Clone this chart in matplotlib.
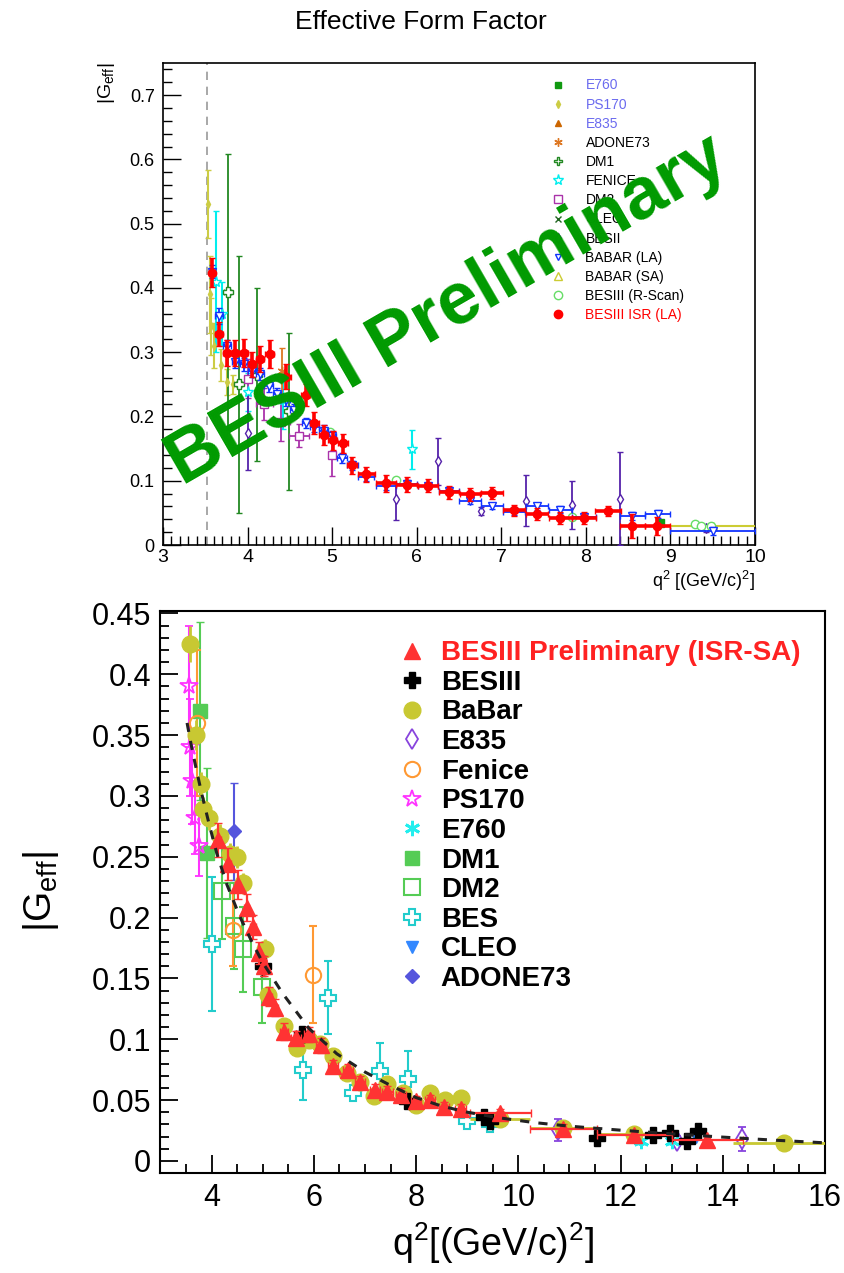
import matplotlib.pyplot as plt
from matplotlib.lines import Line2D
from matplotlib.ticker import MultipleLocator, FuncFormatter

plt.rcParams['font.family'] = ['Liberation Sans', 'DejaVu Sans']
plt.rcParams['mathtext.fontset'] = 'custom'
plt.rcParams['mathtext.rm'] = 'Liberation Sans'
plt.rcParams['mathtext.it'] = 'Liberation Sans:italic'
plt.rcParams['mathtext.bf'] = 'Liberation Sans:bold'

ASTER = (6, 2, 0)

# ---------------- top panel data (q2 in (GeV/c)^2, |Geff|) ----------------
isr_q2 = [3.58, 3.66, 3.755, 3.855, 3.955, 4.05, 4.15, 4.26, 4.46, 4.685, 4.79, 4.90, 5.005, 5.125, 5.235,
          5.405, 5.64, 5.88, 6.13, 6.38, 6.63, 6.89, 7.155, 7.42, 7.70, 7.975, 8.26, 8.55, 8.845]
isr_g = [0.424, 0.328, 0.299, 0.299, 0.299, 0.281, 0.289, 0.297, 0.262, 0.234, 0.190, 0.171, 0.163, 0.158, 0.124,
         0.110, 0.096, 0.094, 0.092, 0.082, 0.079, 0.081, 0.054, 0.048, 0.042, 0.042, 0.053, 0.030, 0.030]
isr_dq = [0.04, 0.045, 0.045, 0.045, 0.045, 0.045, 0.045, 0.05, 0.05, 0.05, 0.05, 0.05, 0.05, 0.06, 0.06,
          0.10, 0.12, 0.12, 0.12, 0.12, 0.12, 0.13, 0.13, 0.13, 0.14, 0.14, 0.15, 0.15, 0.15]
isr_dg = [0.022, 0.019, 0.02, 0.02, 0.022, 0.02, 0.02, 0.022, 0.02, 0.017, 0.017, 0.015, 0.015, 0.015, 0.013,
          0.012, 0.013, 0.012, 0.01, 0.01, 0.01, 0.01, 0.009, 0.009, 0.01, 0.009, 0.008, 0.019, 0.014]

babar_la_q2 = [3.58, 3.665, 3.755, 3.855, 3.955, 4.05, 4.15, 4.25, 4.35, 4.45, 4.55, 4.69, 4.79, 4.90, 5.0,
               5.12, 5.24, 5.40, 5.64, 5.88, 6.13, 6.38, 6.63, 6.89, 7.155, 7.42, 7.70, 7.975, 8.55, 8.85, 9.5]
babar_la_g = [0.425, 0.356, 0.309, 0.285, 0.281, 0.271, 0.266, 0.247, 0.235, 0.225, 0.21, 0.19, 0.184, 0.178, 0.169,
              0.135, 0.124, 0.106, 0.092, 0.095, 0.092, 0.084, 0.069, 0.061, 0.052, 0.060, 0.055, 0.044, 0.045, 0.048, 0.022]
babar_la_dq = [0.04, 0.045, 0.045, 0.045, 0.045, 0.045, 0.045, 0.05, 0.05, 0.05, 0.05, 0.05, 0.05, 0.05, 0.05,
               0.06, 0.06, 0.10, 0.12, 0.12, 0.12, 0.12, 0.13, 0.13, 0.13, 0.13, 0.14, 0.14, 0.15, 0.15, 0.5]
babar_la_dg = [0.01, 0.012, 0.01, 0.01, 0.01, 0.01, 0.009, 0.009, 0.009, 0.009, 0.009, 0.008, 0.008, 0.008, 0.008,
               0.008, 0.007, 0.006, 0.006, 0.006, 0.005, 0.005, 0.005, 0.005, 0.005, 0.005, 0.005, 0.005, 0.006, 0.006, 0.006]

babar_sa_q2 = [9.5]
babar_sa_g = [0.030]
babar_sa_dq = [0.5]

ps170_top_q2 = [3.53, 3.557, 3.562, 3.605, 3.69, 3.76, 3.83]
ps170_top_g = [0.53, 0.39, 0.34, 0.31, 0.28, 0.254, 0.25]
ps170_top_dg = [0.053, 0.06, 0.045, 0.035, 0.025, 0.02, 0.015]

fenice_top_q2 = [3.625, 3.70, 4.0, 4.42, 5.95]
fenice_top_g = [0.41, 0.36, 0.238, 0.225, 0.149]
fenice_top_dg = [0.11, 0.05, 0.03, 0.045, 0.03]

dm1_top_q2 = [3.763, 3.90, 4.11, 4.49]
dm1_top_g = [0.394, 0.25, 0.265, 0.208]
dm1_top_dg = [0.215, 0.2, 0.135, 0.122]

dm2_top_q2 = [4.0, 4.2, 4.4, 4.605, 5.0]
dm2_top_g = [0.259, 0.22, 0.192, 0.17, 0.14]
dm2_top_dq = [0.0, 0.1, 0.1, 0.12, 0.0]
dm2_top_dg = [0.03, 0.025, 0.03, 0.018, 0.033]

adone_top_q2 = [4.41]
adone_top_g = [0.27]
adone_top_dg = [0.036]

bes2_top_q2 = [4.0, 5.76, 6.25, 6.76, 7.29, 7.84, 8.40, 9.42]
bes2_top_g = [0.175, 0.071, 0.13, 0.053, 0.069, 0.062, 0.072, 0.026]
bes2_top_dg = [0.058, 0.032, 0.037, 0.006, 0.04, 0.037, 0.072, 0.005]

rscan_q2 = [4.98, 5.76, 7.84, 9.29, 9.36, 9.48]
rscan_g = [0.176, 0.101, 0.043, 0.032, 0.030, 0.030]

e760_top_q2 = [8.88]
e760_top_g = [0.035]

top_labels = ['E760', 'PS170', 'E835', 'ADONE73', 'DM1', 'FENICE', 'DM2', 'CLEO', 'BESII',
              'BABAR (LA)', 'BABAR (SA)', 'BESIII (R-Scan)', 'BESIII ISR (LA)']

# ---------------- bottom panel data ----------------
isr_sa_q2 = [4.13, 4.33, 4.51, 4.69, 4.81, 4.92, 5.03, 5.13, 5.24, 5.41, 5.65, 5.90, 6.14, 6.37, 6.67,
             6.91, 7.19, 7.44, 7.71, 8.00, 8.27, 8.55, 8.87, 9.65, 10.88, 12.27, 13.7]
isr_sa_g = [0.264, 0.244, 0.227, 0.208, 0.192, 0.171, 0.160, 0.135, 0.126, 0.106, 0.101, 0.104, 0.095, 0.078, 0.075,
            0.065, 0.058, 0.0565, 0.0545, 0.049, 0.050, 0.044, 0.043, 0.039, 0.026, 0.0216, 0.0175]
isr_sa_dq = [0.05, 0.05, 0.05, 0.05, 0.05, 0.05, 0.05, 0.05, 0.05, 0.08, 0.1, 0.1, 0.1, 0.1, 0.1,
             0.1, 0.1, 0.1, 0.1, 0.1, 0.1, 0.1, 0.1, 0.59, 0.65, 0.73, 0.7]
isr_sa_dg = [0.014, 0.013, 0.012, 0.011, 0.01, 0.009, 0.008, 0.008, 0.007, 0.007, 0.006, 0.006, 0.006, 0.005, 0.005,
             0.005, 0.005, 0.005, 0.005, 0.004, 0.004, 0.004, 0.004, 0.004, 0.004, 0.003, 0.003]

bes3_q2 = [5.0, 5.77, 7.83, 9.33, 9.45, 11.53, 12.64, 12.97, 13.3, 13.52]
bes3_g = [0.16, 0.104, 0.049, 0.036, 0.033, 0.019, 0.0216, 0.023, 0.0162, 0.0244]
bes3_dg = [0.008, 0.006, 0.004, 0.003, 0.003, 0.004, 0.003, 0.004, 0.004, 0.004]

babar_q2 = [3.58, 3.70, 3.79, 3.84, 3.94, 4.17, 4.36, 4.50, 4.62, 5.05, 5.11, 5.41, 5.67, 5.90, 6.12,
            6.37, 6.65, 6.91, 7.17, 7.43, 7.75, 8.00, 8.27, 8.57, 8.87, 9.64, 10.88, 12.27, 15.2]
babar_g = [0.425, 0.35, 0.31, 0.289, 0.282, 0.267, 0.252, 0.25, 0.228, 0.174, 0.136, 0.111, 0.093, 0.099, 0.096,
           0.086, 0.072, 0.065, 0.053, 0.063, 0.056, 0.046, 0.056, 0.050, 0.052, 0.034, 0.027, 0.022, 0.0148]
babar_dq = [0, 0, 0, 0, 0, 0, 0, 0, 0, 0, 0, 0, 0, 0, 0,
            0, 0, 0, 0, 0, 0, 0, 0, 0, 0, 0.59, 0.65, 0.73, 1.0]
babar_dg = [0.015, 0.012, 0.01, 0.01, 0.01, 0.01, 0.009, 0.009, 0.009, 0.008, 0.007, 0.006, 0.006, 0.006, 0.005,
            0.005, 0.005, 0.005, 0.005, 0.005, 0.004, 0.004, 0.004, 0.004, 0.004, 0.003, 0.003, 0.003, 0.003]

e835_q2 = [10.78, 13.1, 14.37]
e835_g = [0.025, 0.0162, 0.018]
e835_dg = [0.009, 0.004, 0.0096]

fenice_q2 = [3.71, 4.42, 5.99]
fenice_g = [0.36, 0.19, 0.153]
fenice_dg = [0.06, 0.03, 0.04]

ps170_q2 = [3.55, 3.58, 3.615, 3.68, 3.76]
ps170_g = [0.39, 0.34, 0.312, 0.282, 0.259]
ps170_dg = [0.05, 0.04, 0.035, 0.03, 0.025]

e760_q2 = [12.4, 13.0]
e760_g = [0.0162, 0.0162]
e760_dg = [0.002, 0.002]

dm1_q2 = [3.78, 3.91]
dm1_g = [0.37, 0.253]
dm1_dg = [0.073, 0.07]

dm2_q2 = [4.2, 4.43, 4.62, 4.98]
dm2_g = [0.222, 0.193, 0.174, 0.143]
dm2_dg = [0.04, 0.035, 0.035, 0.03]

bes_q2 = [4.0, 5.78, 6.27, 6.77, 7.30, 7.85, 8.99, 9.45]
bes_g = [0.178, 0.075, 0.134, 0.056, 0.074, 0.0675, 0.0327, 0.030]
bes_dg = [0.055, 0.025, 0.03, 0.004, 0.023, 0.023, 0.004, 0.004]

cleo_q2 = [13.48]
cleo_g = [0.02]
cleo_dg = [0.002]

adone_q2 = [4.43]
adone_g = [0.271]
adone_dg = [0.04]

# dashed fit curve
fit_q2 = [3.52, 3.6, 3.7, 3.8, 3.95, 4.1, 4.3, 4.55, 4.8, 5.0, 5.4, 5.9, 6.45, 7.0, 7.5,
          8.0, 8.5, 9.0, 9.6, 10.3, 11.0, 12.0, 13.0, 14.0, 15.0, 16.0]
fit_g = [0.36, 0.342, 0.322, 0.303, 0.277, 0.253, 0.227, 0.201, 0.179, 0.163, 0.137, 0.109, 0.088, 0.073, 0.062,
         0.052, 0.045, 0.040, 0.0355, 0.0315, 0.0285, 0.0252, 0.0222, 0.0195, 0.017, 0.0148]

bottom_labels = ['BESIII Preliminary (ISR-SA)', 'BESIII', 'BaBar', 'E835', 'Fenice', 'PS170',
                 'E760', 'DM1', 'DM2', 'BES', 'CLEO', 'ADONE73']

fig = plt.figure(figsize=(8.45, 12.73), dpi=100)

# ======================= top panel =======================
ax = fig.add_axes([163 / 845, 1 - 545 / 1273, 592 / 845, 482 / 1273])
ax.set_xlim(3, 10)
ax.set_ylim(0, 0.75)

ax.axvline(3.52, color='#999999', ls=(0, (5, 4)), lw=1.2, zorder=1)

ax.errorbar(ps170_top_q2, ps170_top_g, yerr=ps170_top_dg, fmt='d', ms=4, color='#cccc44',
            elinewidth=1.5, capsize=2, zorder=3)
ax.errorbar(dm1_top_q2, dm1_top_g, yerr=dm1_top_dg, xerr=0.04, fmt='P', ms=7, mfc='white', mec='#228822',
            ecolor='#228822', elinewidth=1.3, capsize=2, zorder=3)
ax.errorbar(fenice_top_q2, fenice_top_g, yerr=fenice_top_dg, fmt='*', ms=8, mfc='white', mec='#00eeee',
            ecolor='#00eeee', elinewidth=1.5, capsize=2, zorder=3)
ax.errorbar(dm2_top_q2, dm2_top_g, yerr=dm2_top_dg, xerr=dm2_top_dq, fmt='s', ms=6, mfc='white', mec='#aa33aa',
            ecolor='#aa33aa', elinewidth=1.3, capsize=2, zorder=3)
ax.errorbar(adone_top_q2, adone_top_g, yerr=adone_top_dg, ls='none', marker=ASTER, ms=7, color='#dd7722',
            elinewidth=1.3, capsize=2, zorder=3)
ax.errorbar(bes2_top_q2, bes2_top_g, yerr=bes2_top_dg, fmt='d', ms=5, mfc='white', mec='#5522aa',
            ecolor='#5522aa', elinewidth=1.3, capsize=2, zorder=3)
ax.errorbar(babar_sa_q2, babar_sa_g, xerr=babar_sa_dq, yerr=0.003, fmt='^', ms=6, mfc='white', mec='#cccc33',
            ecolor='#cccc33', elinewidth=1.5, capsize=0, zorder=3)
ax.errorbar(rscan_q2, rscan_g, yerr=0.003, fmt='o', ms=6, mfc='white', mec='#66dd66',
            ecolor='#66dd66', elinewidth=1.2, capsize=0, zorder=3)
ax.plot(e760_top_q2, e760_top_g, 's', ms=6, color='#119911', zorder=3)
ax.errorbar(babar_la_q2, babar_la_g, xerr=babar_la_dq, yerr=babar_la_dg, fmt='v', ms=6, mfc='white', mec='#1133ff',
            ecolor='#1133ff', elinewidth=1.3, capsize=2, zorder=4)
ax.errorbar(isr_q2, isr_g, xerr=isr_dq, yerr=isr_dg, fmt='o', ms=6, color='#ff0000',
            elinewidth=2.6, capsize=2, zorder=5)

ax.text(0.481, 0.487, 'BESIII Preliminary', transform=ax.transAxes, rotation=30, rotation_mode='anchor',
        ha='center', va='center', fontsize=53, fontweight='bold', color='#009a00', zorder=6)

ax.xaxis.set_major_locator(MultipleLocator(1))
ax.xaxis.set_minor_locator(MultipleLocator(0.1))
ax.yaxis.set_major_locator(MultipleLocator(0.1))
ax.yaxis.set_minor_locator(MultipleLocator(0.02))
ax.yaxis.set_major_formatter(FuncFormatter(lambda v, p: '%g' % round(v, 3)))
ax.tick_params(which='both', direction='in', top=False, right=False, width=1)
ax.tick_params(which='major', length=13, labelsize=13, pad=6)
ax.tick_params(axis='x', which='major', labelsize=14, pad=3)
ax.tick_params(which='minor', length=6.5)
for s in ax.spines.values():
    s.set_linewidth(1.2)

ax.set_ylabel(r'$\mathregular{|G_{eff}|}$', fontsize=14, loc='top')
ax.yaxis.set_label_coords(-0.078, 1.0)
ax.set_xlabel(r'$\mathregular{q^{2}\ [(GeV/c)^{2}]}$', fontsize=13, loc='right')
ax.xaxis.set_label_coords(1.0, -0.05)

top_handles = [
    Line2D([], [], ls='', marker='s', ms=5, color='#119911'),
    Line2D([], [], ls='', marker='d', ms=4, color='#cccc44'),
    Line2D([], [], ls='', marker='^', ms=5, color='#cc6600'),
    Line2D([], [], ls='', marker=ASTER, ms=6, color='#dd7722'),
    Line2D([], [], ls='', marker='P', ms=6, mfc='white', mec='#228822'),
    Line2D([], [], ls='', marker='*', ms=8, mfc='white', mec='#00eeee'),
    Line2D([], [], ls='', marker='s', ms=6, mfc='white', mec='#aa33aa'),
    Line2D([], [], ls='', marker='x', ms=5, color='#226622'),
    Line2D([], [], ls='', marker='d', ms=5, mfc='white', mec='#5522aa'),
    Line2D([], [], ls='', marker='v', ms=5, mfc='white', mec='#1133ff'),
    Line2D([], [], ls='', marker='^', ms=6, mfc='white', mec='#cccc33'),
    Line2D([], [], ls='', marker='o', ms=6, mfc='white', mec='#66dd66'),
    Line2D([], [], ls='', marker='o', ms=6, color='#ff0000'),
]
leg = ax.legend(top_handles, top_labels, loc='upper left', bbox_to_anchor=(0.655, 0.968), frameon=False,
                fontsize=10, handlelength=1.0, handletextpad=1.5, labelspacing=0.37, borderpad=0,
                borderaxespad=0)
top_text_colors = ['#6b6bef', '#6b6bef', '#6b6bef'] + ['black'] * 9 + ['#ff0000']
for t, c in zip(leg.get_texts(), top_text_colors):
    t.set_color(c)
leg.set_zorder(2)

fig.text(0.498, 1 - 22 / 1273, 'Effective Form Factor', ha='center', va='center', fontsize=19)

# ======================= bottom panel =======================
bx = fig.add_axes([160.5 / 845, 1 - 1173 / 1273, 664.5 / 845, 562 / 1273])
bx.set_xlim(3, 16)
bx.set_ylim(-0.01, 0.452)

bx.errorbar(dm1_q2, dm1_g, yerr=dm1_dg, fmt='s', ms=10, color='#55cc55', elinewidth=1.5, capsize=3, zorder=3)
bx.errorbar(dm2_q2, dm2_g, yerr=dm2_dg, fmt='s', ms=11, mfc='none', mec='#55cc55', mew=1.5,
            ecolor='#55cc55', elinewidth=1.5, capsize=3, zorder=3)
bx.errorbar(fenice_q2, fenice_g, yerr=fenice_dg, fmt='o', ms=11, mfc='none', mec='#ff9933', mew=1.5,
            ecolor='#ff9933', elinewidth=1.5, capsize=3, zorder=3)
bx.errorbar(ps170_q2, ps170_g, yerr=ps170_dg, fmt='*', ms=13, mfc='none', mec='#ff33ff', mew=1.3,
            ecolor='#ff33ff', elinewidth=1.5, capsize=3, zorder=3)
bx.errorbar(bes_q2, bes_g, yerr=bes_dg, fmt='P', ms=12, mfc='white', mec='#22cccc', mew=1.5,
            ecolor='#22cccc', elinewidth=1.5, capsize=3, zorder=3)
bx.errorbar(adone_q2, adone_g, yerr=adone_dg, fmt='D', ms=7, color='#5555dd', elinewidth=1.5, capsize=3, zorder=3)
bx.errorbar(e835_q2, e835_g, yerr=e835_dg, fmt='d', ms=10, mfc='white', mec='#8844dd', mew=1.3,
            ecolor='#8844dd', elinewidth=1.5, capsize=3, zorder=3)
bx.errorbar(e760_q2, e760_g, yerr=e760_dg, ls='none', marker=ASTER, ms=11, color='#22eeee', mew=2,
            elinewidth=1.5, capsize=2, zorder=3)
bx.errorbar(cleo_q2, cleo_g, yerr=cleo_dg, fmt='v', ms=9, color='#3388ff', elinewidth=1.5, capsize=2, zorder=3)
bx.errorbar(babar_q2, babar_g, xerr=babar_dq, yerr=babar_dg, fmt='o', ms=12, color='#c8c832',
            elinewidth=2, capsize=0, zorder=4)
bx.errorbar(bes3_q2, bes3_g, yerr=bes3_dg, fmt='P', ms=11, color='black', elinewidth=1.5, capsize=2, zorder=5)
bx.errorbar(isr_sa_q2, isr_sa_g, xerr=isr_sa_dq, yerr=isr_sa_dg, fmt='^', ms=12, color='#ff3333',
            elinewidth=1.6, capsize=3, zorder=6)
bx.plot(fit_q2, fit_g, ls=(0, (3, 3)), lw=2.2, color='#222222', zorder=7)

bx.xaxis.set_major_locator(MultipleLocator(2))
bx.xaxis.set_minor_locator(MultipleLocator(0.5))
bx.yaxis.set_major_locator(MultipleLocator(0.05))
bx.yaxis.set_minor_locator(MultipleLocator(0.01))
bx.yaxis.set_major_formatter(FuncFormatter(lambda v, p: '%g' % round(v, 3)))
bx.tick_params(which='both', direction='in', top=False, right=False, width=1.3)
bx.tick_params(which='major', length=13, labelsize=22, pad=7)
bx.tick_params(which='minor', length=6.5)
for s in bx.spines.values():
    s.set_linewidth(1.5)

bx.set_ylabel(r'$\mathregular{|G_{eff}|}$', fontsize=28)
bx.yaxis.set_label_coords(-0.15, 0.5)
bx.set_xlabel(r'$\mathregular{q^{2}[(GeV/c)^{2}]}$', fontsize=27)
bx.xaxis.set_label_coords(0.5, -0.085)

bottom_handles = [
    Line2D([], [], ls='', marker='^', ms=12, color='#ff3333'),
    Line2D([], [], ls='', marker='P', ms=11, color='black'),
    Line2D([], [], ls='', marker='o', ms=12, color='#c8c832'),
    Line2D([], [], ls='', marker='d', ms=10, mfc='white', mec='#8844dd', mew=1.3),
    Line2D([], [], ls='', marker='o', ms=11, mfc='white', mec='#ff9933', mew=1.5),
    Line2D([], [], ls='', marker='*', ms=13, mfc='white', mec='#ff33ff', mew=1.3),
    Line2D([], [], ls='', marker=ASTER, ms=11, color='#22eeee', mew=2),
    Line2D([], [], ls='', marker='s', ms=10, color='#55cc55'),
    Line2D([], [], ls='', marker='s', ms=11, mfc='white', mec='#55cc55', mew=1.5),
    Line2D([], [], ls='', marker='P', ms=12, mfc='white', mec='#22cccc', mew=1.5),
    Line2D([], [], ls='', marker='v', ms=9, color='#3388ff'),
    Line2D([], [], ls='', marker='D', ms=7, color='#5555dd'),
]
leg2 = bx.legend(bottom_handles, bottom_labels, loc='upper left', bbox_to_anchor=(0.357, 0.948), frameon=False,
                 prop={'size': 20, 'weight': 'bold'}, handlelength=1.0, handletextpad=0.55,
                 labelspacing=0.13, borderpad=0, borderaxespad=0)
leg2.get_texts()[0].set_color('#ff2222')

fig.savefig('out.png', dpi=100)
